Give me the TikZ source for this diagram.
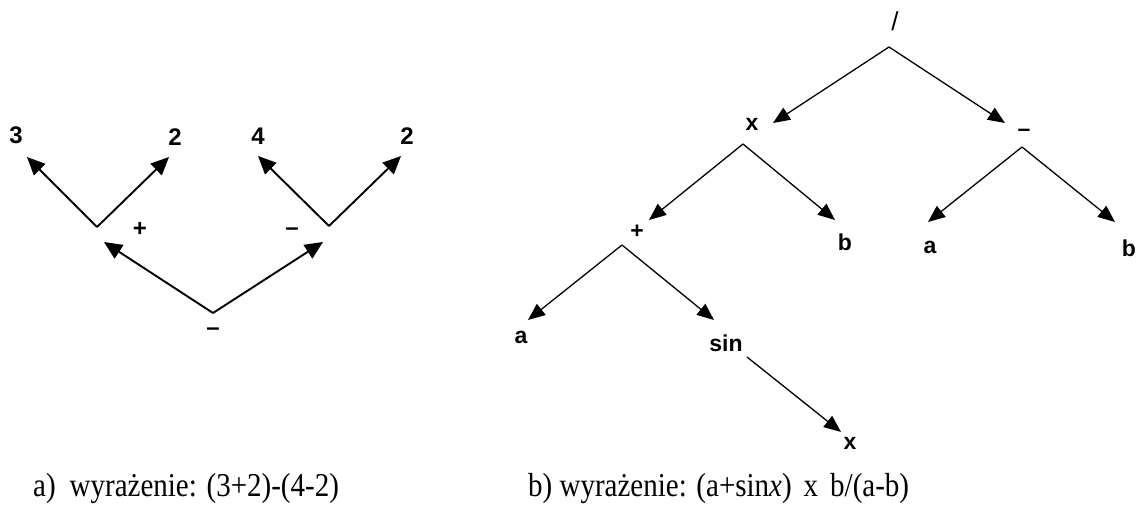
\documentclass[tikz,border=0pt]{standalone}
\usepackage{fontspec}
\setmainfont{Liberation Serif}
\newfontfamily\labfont{Liberation Sans}
\newfontfamily\divfont{Liberation Sans}
\usetikzlibrary{arrows.meta}
\begin{document}
\begin{tikzpicture}[x=1pt,y=-1pt,
  lab/.style={font=\labfont\bfseries\fontsize{24}{24}\selectfont, inner sep=0pt},
  labr/.style={font=\labfont\bfseries\fontsize{23}{23}\selectfont, inner sep=0pt},
  arrL/.style={line width=1.9pt, -{Triangle[length=18pt,width=16pt]}},
  arrR/.style={line width=1.3pt, -{Triangle[length=17pt,width=14pt]}},
  captext/.style={font=\fontsize{29}{29}\selectfont, inner sep=0pt, anchor=base west}]
\useasboundingbox (0,0) rectangle (1136,511);
% ---------- left tree ----------
\node[lab] (n3)    at (16,135)  {3};
\node[lab] (n2a)   at (175,137) {2};
\node[lab] (n4)    at (258,136) {4};
\node[lab] (n2b)   at (407,136) {2};
\node[lab] (nplus) at (140,229) {+};
\node[lab] (nminA) at (292,232) {–};
\node[lab] (nminB) at (213,332) {–};
\coordinate (v1) at (97,227);
\coordinate (v2) at (329,226);
\coordinate (v0) at (213,313);
\coordinate (t3)  at (27,157);
\coordinate (t2a) at (169,157);
\coordinate (t4)  at (258,156);
\coordinate (t2b) at (401,156);
\coordinate (tp)  at (104,242);
\coordinate (tm)  at (323,242);
\draw[arrL] (v1) -- (t3);
\draw[arrL] (v1) -- (t2a);
\draw[arrL] (v2) -- (t4);
\draw[arrL] (v2) -- (t2b);
\draw[arrL] (v0) -- (tp);
\draw[arrL] (v0) -- (tm);
% ---------- right tree ----------
\node[inner sep=0pt, font=\divfont\fontsize{26}{26}\selectfont] (rdiv) at (895,21) {/};
\node[labr] (rx)    at (752,124) {x};
\node[labr] (rmin)  at (1024,133) {–};
\node[labr] (rplus) at (637,232) {+};
\node[labr] (rb1)   at (845,242) {b};
\node[labr] (ra1)   at (930,247) {a};
\node[labr] (rb2)   at (1129,248) {b};
\node[labr] (ra2)   at (521,337) {a};
\node[labr] (rsin)  at (726,343) {sin};
\node[labr] (rx2)   at (850,443) {x};
\coordinate (r0)  at (889,47);
\coordinate (vx)  at (743,144);
\coordinate (vm)  at (1022,147);
\coordinate (vp)  at (622,245);
\coordinate (ss)  at (747,357);
\coordinate (tx)   at (773,123);
\coordinate (tmn)  at (1005,123);
\coordinate (tpl)  at (649,220);
\coordinate (tb1)  at (835,220);
\coordinate (ta1)  at (928,222);
\coordinate (tb2)  at (1115,222);
\coordinate (ta2)  at (528,320);
\coordinate (tsin) at (714,320);
\coordinate (tx2)  at (841,432);
\draw[arrR] (r0) -- (tx);
\draw[arrR] (r0) -- (tmn);
\draw[arrR] (vx) -- (tpl);
\draw[arrR] (vx) -- (tb1);
\draw[arrR] (vm) -- (ta1);
\draw[arrR] (vm) -- (tb2);
\draw[arrR] (vp) -- (ta2);
\draw[arrR] (vp) -- (tsin);
\draw[arrR] (ss) -- (tx2);
% ---------- captions ----------
\node[captext] (capa) at (33,496) {\scalebox{1}[1.15]{a)\hspace{14pt}wyrażenie: (3+2)-(4-2)}};
\node[captext] (capb) at (528,496) {\scalebox{1}[1.15]{b) wyrażenie: (a+sin\textit{x})\hspace{12pt}x\hspace{12pt}b/(a-b)}};
\end{tikzpicture}
\end{document}
